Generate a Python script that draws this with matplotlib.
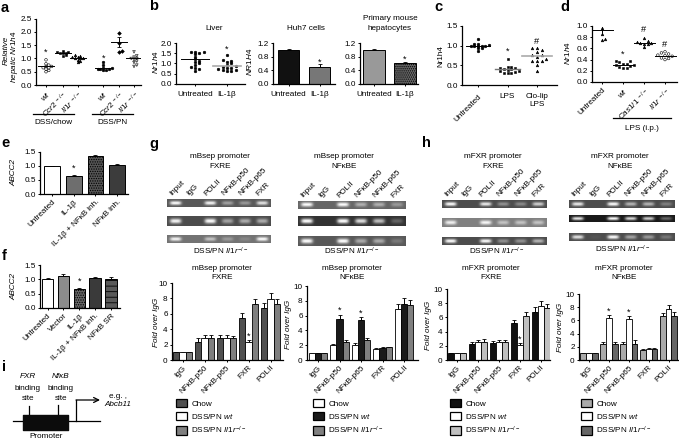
import numpy as np
import matplotlib
matplotlib.use("Agg")
import matplotlib.pyplot as plt
from matplotlib.patches import Patch

plt.rcParams['font.family'] = ['Liberation Sans', 'DejaVu Sans']
plt.rcParams['mathtext.fontset'] = 'custom'
plt.rcParams['mathtext.rm'] = 'Liberation Sans'
plt.rcParams['mathtext.it'] = 'Liberation Sans:italic'
plt.rcParams['mathtext.bf'] = 'Liberation Sans:bold'
plt.rcParams['hatch.linewidth'] = 0.6

W, H = 679, 440
FS = 5.9
IL1R = r'$\it{Il1r}^{-/-}$'
KO_CAPTION = 'DSS/PN ' + IL1R

# panel a
a_labels = [r'$\it{wt}$', r'$\it{Ccr2}^{\ -/-}$', r'$\it{Il1r}^{\ -/-}$'] * 2
a_wt_chow = [0.5, 0.55, 0.6, 0.65, 0.65, 0.7, 0.7, 0.75, 0.8, 0.95]
a_ccr2_chow = [1.1, 1.13, 1.2, 1.2, 1.22, 1.25, 1.25, 1.3]
a_il1r_chow = [0.85, 0.9, 0.95, 1.0, 1.0, 1.0, 1.05, 1.05, 1.1, 1.12]
a_wt_pn = [0.55, 0.58, 0.6, 0.6, 0.62, 0.65, 0.65, 0.75, 0.85]
a_ccr2_pn = [1.25, 1.3, 1.6, 1.95]
a_il1r_pn = [0.7, 0.75, 0.85, 0.9, 0.95, 1.0, 1.0, 1.05, 1.1, 1.25]
a_means = [0.7, 1.2, 1.0, 0.63, 1.62, 1.0]

# panel b
liver_untreated = [0.65, 0.75, 0.8, 0.85, 0.95, 1.0, 1.05, 1.1, 1.2, 1.3, 1.45, 1.5, 1.55, 1.55, 1.55]
liver_il1b = [0.65, 0.65, 0.7, 0.7, 0.75, 0.8, 0.8, 0.85, 0.9, 0.95, 1.0, 1.05, 1.1, 1.15, 1.4]
liver_means = [1.2, 0.9]
b_labels = ['Untreated', 'IL-1β']
huh7_vals = [1.0, 0.5]
huh7_err = [0.03, 0.08]
primary_vals = [1.0, 0.62]
primary_err = [0.015, 0.02]

# panel c
c_labels = ['Untreated', 'LPS', 'Clo-lip\nLPS']
c_untreated = [0.87, 0.93, 0.95, 0.98, 1.0, 1.0, 1.0, 1.0, 1.02, 1.03, 1.05, 1.17]
c_lps = [0.3, 0.3, 0.31, 0.32, 0.35, 0.35, 0.38, 0.4, 0.4, 0.42, 0.42, 0.45, 0.47, 0.65]
c_clolip = [0.35, 0.5, 0.6, 0.6, 0.6, 0.65, 0.7, 0.75, 0.75, 0.85, 0.9, 0.95, 0.95]
c_means = [1.0, 0.41, 0.73]

# panel d
d_labels = ['Untreated', r'$\it{wt}$', r'$\it{Cas1/1}^{\ -/-}$', r'$\it{Il1r}^{\ -/-}$']
d_untreated = [0.75, 0.76, 0.85, 0.97]
d_wt = [0.25, 0.25, 0.27, 0.28, 0.3, 0.3, 0.32, 0.33, 0.35, 0.37, 0.38]
d_casp = [0.63, 0.67, 0.68, 0.7, 0.7, 0.72, 0.73, 0.78]
d_il1r = [0.4, 0.42, 0.43, 0.46, 0.47, 0.48, 0.5, 0.52, 0.54]
d_means = [0.93, 0.31, 0.7, 0.47]

# panels e, f
e_labels = ['Untreated', 'IL-1β', 'IL-1β + NFκB inh.', 'NFκB inh.']
e_vals = [1.0, 0.66, 1.35, 1.05]
e_err = [0.0, 0.02, 0.03, 0.03]
f_labels = ['Untreated', 'Vector', 'IL-1β', 'IL-1β + NFκB inh.', 'NFκB SR']
f_vals = [1.0, 1.13, 0.67, 1.03, 1.0]
f_err = [0.05, 0.07, 0.03, 0.04, 0.09]

# panels g, h
chip_labels = ['IgG', 'NFκB-p50', 'NFκB-p65', 'FXR', 'POLII']
lane_labels = ['Input', 'IgG', 'POLII', 'NFκB-p50', 'NFκB-p65', 'FXR']
legend_labels = ['Chow', 'DSS/PN $\\it{wt}$', KO_CAPTION]

g1_chow = [1, 2.4, 2.85, 5.5, 6.7]
g1_chow_err = [0, 0.4, 0.35, 0.6, 0.7]
g1_wt = [1, 2.9, 2.85, 2.3, 7.9]
g1_wt_err = [0, 0.4, 0.35, 0.3, 0.8]
g1_ko = [1, 2.85, 2.85, 7.3, 7.3]
g1_ko_err = [0, 0.35, 0.3, 0.6, 0.6]

g2_chow = [1, 2, 2, 1.5, 6.9]
g2_chow_err = [0, 0.2, 0.3, 0.1, 0.7]
g2_wt = [1, 5.5, 5.4, 1.65, 7.6]
g2_wt_err = [0, 0.6, 0.35, 0.15, 0.8]
g2_ko = [1, 2.4, 2.65, 1.7, 7.4]
g2_ko_err = [0, 0.35, 0.3, 0.1, 0.7]

h1_chow = [1, 2.2, 2.4, 5.2, 6.8]
h1_chow_err = [0, 0.3, 0.25, 0.4, 0.7]
h1_wt = [1, 2.5, 2.5, 2.1, 7.6]
h1_wt_err = [0, 0.3, 0.25, 0.3, 0.7]
h1_ko = [1, 2.6, 2.6, 6.2, 7.3]
h1_ko_err = [0, 0.3, 0.2, 0.6, 0.6]

h2_chow = [1, 2.5, 2.4, 1.5, 6.6]
h2_chow_err = [0, 0.3, 0.4, 0.1, 0.5]
h2_wt = [1, 6.3, 6.2, 1.65, 7.7]
h2_wt_err = [0, 0.5, 0.5, 0.1, 0.7]
h2_ko = [1, 2.4, 2.5, 1.7, 6.6]
h2_ko_err = [0, 0.4, 0.5, 0.1, 0.6]

# gel band strength per lane, background grey per strip
g1_bands = [[1, 0, 0.95, 0.45, 0.4, 0.85], [0.95, 0, 1, 0.5, 0.55, 0.55], [0.95, 0, 0.6, 0.3, 0.15, 1]]
g1_bg = [0.35, 0.3, 0.45]
g2_bands = [[1, 0, 1, 0.5, 0.5, 0.35], [1, 0, 1, 0.85, 0.7, 0.25], [1, 0, 1, 0.5, 0.5, 0.2]]
g2_bg = [0.4, 0.2, 0.35]
h1_bands = [[1, 0, 0.9, 0.4, 0.35, 0.75], [0.9, 0, 0.95, 0.55, 0.55, 0.55], [1, 0, 1, 0.4, 0.4, 0.6]]
h1_bg = [0.3, 0.5, 0.3]
h2_bands = [[0.9, 0, 1, 0.6, 0.6, 0.3], [0.9, 0, 1, 0.85, 0.8, 0.35], [0.85, 0.05, 1, 0.5, 0.45, 0.25]]
h2_bg = [0.3, 0.1, 0.3]

fig = plt.figure(figsize=(W / 100, H / 100), dpi=100)


def px_axes(x0, x1, ytop, ybot, ymax, first, step, yticks, ticklabels=None):
    # axes placed in image pixels, categories sit on 0, 1, 2 ...
    ax = fig.add_axes([x0 / W, 1 - ybot / H, (x1 - x0) / W, (ybot - ytop) / H])
    ax.set_xlim((x0 - first) / step, (x1 - first) / step)
    ax.set_ylim(0, ymax)
    ax.patch.set_alpha(0)
    for s in ['top', 'right']:
        ax.spines[s].set_visible(False)
    for s in ['left', 'bottom']:
        ax.spines[s].set_linewidth(0.9)
    ax.set_yticks(yticks)
    if ticklabels:
        ax.set_yticklabels(ticklabels)
    ax.tick_params(axis='both', labelsize=FS, length=1.6, width=0.7, pad=1.5)
    return ax


def rot_labels(ax, labels, pad=1.5):
    ax.set_xticks(range(len(labels)))
    ax.set_xticklabels(labels, rotation=45, ha='right', rotation_mode='anchor', fontsize=FS)
    ax.tick_params(axis='x', pad=pad)


def swarm(vals, gap, dx):
    # simple dodge so that close values sit side by side
    placed = []
    for v in sorted(vals):
        k = 0
        while True:
            off = ((k + 1) // 2) * dx * (1 if k % 2 else -1)
            if all(abs(v - pv) > gap or abs(off - po) > dx * 0.9 for pv, po in placed):
                break
            k += 1
        placed.append((v, off))
    return np.array([p[1] for p in placed]), np.array([p[0] for p in placed])


def dots(ax, i, vals, marker='o', fc='k', gap=0.05, dx=0.12, s=3.6):
    off, v = swarm(vals, gap, dx)
    ax.scatter(i + off, v, marker=marker, s=s, facecolors=fc, edgecolors='k', linewidths=0.4, zorder=3, clip_on=False)


def mean_line(ax, i, m, hw=0.4, color='k', lw=0.7):
    ax.plot([i - hw, i + hw], [m, m], color=color, lw=lw, zorder=4)


def note(ax, x, y, s='*'):
    ax.text(x, y, s, ha='center', va='center', fontsize=FS + 0.8)


def bars(ax, vals, err, colors, hatches=None, width=0.72):
    hatches = hatches or [None] * len(vals)
    for i, v in enumerate(vals):
        ax.bar(i, v, width=width, facecolor=colors[i], edgecolor='k', linewidth=0.7, hatch=hatches[i])
        ax.errorbar(i, v, yerr=[[0], [err[i]]], color='k', lw=0.7, capsize=1.3, capthick=0.6, zorder=2)


def grouped(ax, series, errs, colors, width=0.29):
    for j, (vals, err) in enumerate(zip(series, errs)):
        x = np.arange(len(vals)) + (j - 1) * width
        ax.bar(x, vals, width=width, facecolor=colors[j], edgecolor='k', linewidth=0.6, zorder=2)
        ax.errorbar(x, vals, yerr=[np.zeros(len(err)), err], fmt='none', ecolor='k', elinewidth=0.7,
                    capsize=1.1, capthick=0.6, zorder=1)


def gel(x0, x1, ytop, ybot, bands, bg):
    ax = fig.add_axes([x0 / W, 1 - ybot / H, (x1 - x0) / W, (ybot - ytop) / H])
    nx, ny = int((x1 - x0) * 4), int((ybot - ytop) * 4)
    xx = (np.arange(nx) + 0.5) / nx * len(bands)
    yy = (np.arange(ny) + 0.5) / ny
    img = np.full((ny, nx), float(bg))
    for i, b in enumerate(bands):
        prof_x = np.exp(-((xx - i - 0.5) / 0.33) ** 4)
        prof_y = np.exp(-((yy - 0.5) / 0.24) ** 2)
        img += (1 - bg) * b * np.outer(prof_y, prof_x)
    ax.imshow(np.clip(img, 0, 1), cmap='gray', vmin=0, vmax=1, aspect='auto', interpolation='bilinear')
    ax.axis('off')


def gel_set(x0, x1, rows, bands, bgs, caption_x, caption_y):
    for (yt, yb), b, bg in zip(rows, bands, bgs):
        gel(x0, x1, yt, yb, b, bg)
    step = (x1 - x0) / 6
    for i, name in enumerate(lane_labels):
        t(x0 + step * (i + 0.35), rows[0][0] - 2, name, rotation=45, ha='left', va='bottom', rotation_mode='anchor')
    t(caption_x, caption_y, KO_CAPTION)


def chip_legend(ax, colors, x, y):
    handles = [Patch(facecolor=c, edgecolor='k', linewidth=0.9) for c in colors]
    ax.legend(handles, legend_labels, loc='upper left', bbox_to_anchor=(x / W, 1 - y / H),
              bbox_transform=fig.transFigure, frameon=False, fontsize=FS, handlelength=1.35, handleheight=1.25,
              labelspacing=0.48, handletextpad=0.5, borderpad=0, borderaxespad=0)


top = fig.add_axes([0, 0, 1, 1], zorder=10)
top.set_xlim(0, W)
top.set_ylim(H, 0)
top.axis('off')


def t(x, y, s, **kw):
    kw.setdefault('fontsize', FS)
    kw.setdefault('ha', 'center')
    kw.setdefault('va', 'center')
    top.text(x, y, s, **kw)


for letter, x, y in [('a', 5, 8), ('b', 154, 6), ('c', 438, 7), ('d', 565, 7), ('e', 5, 143),
                     ('f', 4, 256), ('g', 154, 144), ('h', 426, 143), ('i', 4, 367)]:
    t(x, y, letter, fontsize=10.5, fontweight='bold')

# a
ax = px_axes(36, 141, 18.7, 85, 2.5, 46, 17.6, [0, 0.5, 1, 1.5, 2, 2.5], ['0.0', '0.5', '1.0', '1.5', '2.0', '2.5'])
a_pos = [0, 0.95, 1.8, 3.25, 4.15, 5.0]
ax.set_xticks(a_pos)
ax.set_xticklabels(a_labels, rotation=45, ha='right', rotation_mode='anchor', fontsize=FS)
a_groups = [a_wt_chow, a_ccr2_chow, a_il1r_chow, a_wt_pn, a_ccr2_pn, a_il1r_pn]
a_marks = [('o', 'none'), ('s', 'k'), ('^', 'k'), ('o', 'k'), ('D', 'k'), ('v', 'none')]
for p, vals, (m, fc), mn in zip(a_pos, a_groups, a_marks, a_means):
    dots(ax, p, vals, marker=m, fc=fc, gap=0.08, dx=0.16)
    mean_line(ax, p, mn, hw=0.45)
ax.errorbar(a_pos[4], a_means[4], yerr=0.2, color='k', lw=0.7, capsize=1.5, capthick=0.6)
note(ax, a_pos[0], 1.22)
note(ax, a_pos[3], 1.0)
t(6, 50, 'Relative', rotation=90, style='italic')
t(15, 57, 'hepatic $\\it{Nr1h4}$', rotation=90, style='italic')
top.plot([33, 74], [114, 114], color='k', lw=0.9)
top.plot([92, 133], [114, 114], color='k', lw=0.9)
t(53, 123, 'DSS/chow')
t(112, 123, 'DSS/PN')

# b
t(214, 28, 'Liver')
t(306, 28, 'Huh7 cells')
t(390, 19, 'Primary mouse')
t(390, 29, 'hepatocytes')
ax = px_axes(176, 245, 43, 84, 2.0, 195, 32, [0, 0.5, 1, 1.5, 2], ['0.0', '0.5', '1.0', '1.5', '2.0'])
ax.set_xticks([0, 1])
ax.set_xticklabels(b_labels, fontsize=FS)
ax.tick_params(axis='x', pad=3.5)
dots(ax, 0, liver_untreated, gap=0.1, dx=0.14)
dots(ax, 1, liver_il1b, gap=0.1, dx=0.14)
mean_line(ax, 0, liver_means[0], hw=0.45)
mean_line(ax, 1, liver_means[1], hw=0.45, color='#aaaaaa', lw=1.2)
note(ax, 1, 1.72)
t(155, 62, '$\\it{Nr1h4}$', rotation=90)

ax = px_axes(273, 335, 43, 84, 1.2, 288.5, 31, [0, 0.4, 0.8, 1.2], ['0.0', '0.4', '0.8', '1.2'])
bars(ax, huh7_vals, huh7_err, ['#111111', '#777777'], width=0.68)
ax.set_xticks([0, 1])
ax.set_xticklabels(b_labels, fontsize=FS)
ax.tick_params(axis='x', pad=3.5)
note(ax, 1, 0.63)
t(249, 62, '$\\it{NR1H4}$', rotation=90)

ax = px_axes(360, 418, 43, 84, 1.2, 374, 31, [0, 0.4, 0.8, 1.2], ['0.0', '0.4', '0.8', '1.2'])
bars(ax, primary_vals, primary_err, ['#999999', '#666666'], hatches=[None, '........'], width=0.7)
ax.set_xticks([0, 1])
ax.set_xticklabels(b_labels, fontsize=FS)
ax.tick_params(axis='x', pad=3.5)
note(ax, 1, 0.72)

# c
ax = px_axes(462, 557, 26, 85, 1.5, 478, 29.5, [0, 0.5, 1, 1.5], ['0.0', '0.5', '1.0', '1.5'])
ax.set_xticks([0, 1, 2])
ax.set_xticklabels(c_labels, fontsize=FS)
ax.tick_params(axis='x', pad=4.5)
ax.get_xticklabels()[0].set(rotation=45, ha='right', rotation_mode='anchor')
dots(ax, 0, c_untreated, fc='k', gap=0.05, dx=0.12)
dots(ax, 1, c_lps, marker='s', gap=0.05, dx=0.13)
dots(ax, 2, c_clolip, marker='^', gap=0.07, dx=0.16)
mean_line(ax, 0, c_means[0], hw=0.42)
mean_line(ax, 1, c_means[1], hw=0.42, color='#777777', lw=1.0)
mean_line(ax, 2, c_means[2], hw=0.5, color='#aaaaaa', lw=1.2)
note(ax, 1, 0.87)
note(ax, 2, 1.1, '#')
t(441, 56, 'Nr1h4', rotation=90)

# d
ax = px_axes(592, 677, 26, 82, 1.0, 602, 21, [0, 0.2, 0.4, 0.6, 0.8, 1.0], ['0.0', '0.2', '0.4', '0.6', '0.8', '1.0'])
rot_labels(ax, d_labels)
dots(ax, 0, d_untreated, marker='^', gap=0.04, dx=0.15)
dots(ax, 1, d_wt, marker='s', gap=0.06, dx=0.17)
dots(ax, 2, d_casp, marker='^', gap=0.05, dx=0.17)
dots(ax, 3, d_il1r, marker='o', fc='none', gap=0.06, dx=0.17)
for i, m in enumerate(d_means):
    mean_line(ax, i, m, hw=0.5)
ax.errorbar(0, d_means[0], yerr=0.06, color='k', lw=0.7)
note(ax, 1, 0.5)
note(ax, 2, 0.93, '#')
note(ax, 3, 0.67, '#')
t(567, 53, '$\\it{Nr1h4}$', rotation=90)
top.plot([613, 671], [118, 118], color='k', lw=0.9)
t(642, 128, 'LPS (i.p.)')

# e
ax = px_axes(40, 128, 152, 194, 1.5, 52, 21.7, [0, 0.5, 1, 1.5], ['0.0', '0.5', '1.0', '1.5'])
bars(ax, e_vals, e_err, ['white', '#6e6e6e', '#555555', '#3c3c3c'], hatches=[None, None, '.......', None], width=0.72)
rot_labels(ax, e_labels)
note(ax, 1, 0.92)
t(14, 173, 'ABCC2', rotation=90, style='italic')

# f
ax = px_axes(40, 120, 265, 308, 1.5, 47.5, 15.9, [0, 0.5, 1, 1.5], ['0.0', '0.5', '1.0', '1.5'])
bars(ax, f_vals, f_err, ['white', '#8c8c8c', '#666666', '#3a3a3a', '#5a5a5a'],
     hatches=[None, None, '.......', None, '---'], width=0.72)
rot_labels(ax, f_labels)
note(ax, 2, 0.92)
t(14, 287, 'ABCC2', rotation=90, style='italic')

# gels
gel_set(167, 271, [(199, 207), (216, 226), (235, 243)], g1_bands, g1_bg, 221, 251)
gel_set(298, 406, [(201, 209), (216, 226), (236, 246)], g2_bands, g2_bg, 352, 251)
gel_set(442, 547, [(200, 208), (218, 227), (237, 245)], h1_bands, h1_bg, 497, 251)
gel_set(569, 675, [(200, 208), (215, 222), (233, 241)], h2_bands, h2_bg, 623, 249)
for x, line2 in [(220, 'FXRE'), (344, 'NFκBE')]:
    t(x, 156, 'mBsep promoter')
    t(x, 166, line2)
for x, line2 in [(493, 'FXRE'), (620, 'NFκBE')]:
    t(x, 156, 'mFXR promoter')
    t(x, 166, line2)
for x, s1, line2 in [(222, 'mBsep promoter', 'FXRE'), (352, 'mBsep promoter', 'NFκBE'),
                     (491, 'mFXR promoter', 'FXRE'), (624, 'mFXR promoter', 'NFκBE')]:
    t(x, 268, s1)
    t(x, 277.5, line2)

# g, h bar charts
fold_ticks = [0, 2, 4, 6, 8, 10]

c_g1 = ['#505050', 'white', '#7f7f7f']
ax = px_axes(172, 283, 283, 360, 10, 182.5, 22, fold_ticks)
grouped(ax, [g1_chow, g1_wt, g1_ko], [g1_chow_err, g1_wt_err, g1_ko_err], c_g1)
rot_labels(ax, chip_labels)
note(ax, 3, 3.1)
chip_legend(ax, c_g1, 176, 398.5)
t(157, 322, 'Fold over IgG', rotation=90, style='italic')

c_g2 = ['white', '#1a1a1a', '#808080']
ax = px_axes(307, 418, 286, 360, 10, 318, 21.5, fold_ticks)
grouped(ax, [g2_chow, g2_wt, g2_ko], [g2_chow_err, g2_wt_err, g2_ko_err], c_g2)
rot_labels(ax, chip_labels)
note(ax, 1, 6.7)
note(ax, 2, 6.3)
chip_legend(ax, c_g2, 313, 398.5)
t(288, 324, 'Fold over IgG', rotation=90, style='italic')

c_h1 = ['#111111', 'white', '#c0c0c0']
ax = px_axes(447, 550, 289, 360, 10, 457, 20.9, fold_ticks)
grouped(ax, [h1_chow, h1_wt, h1_ko], [h1_chow_err, h1_wt_err, h1_ko_err], c_h1)
rot_labels(ax, chip_labels)
note(ax, 3, 2.95)
chip_legend(ax, c_h1, 450, 398.5)
t(428, 325, 'Fold over IgG', rotation=90, style='italic')

c_h2 = ['#aaaaaa', 'white', '#666666']
ax = px_axes(579, 678, 294, 360, 10, 589, 19.9, fold_ticks)
grouped(ax, [h2_chow, h2_wt, h2_ko], [h2_chow_err, h2_wt_err, h2_ko_err], c_h2)
rot_labels(ax, chip_labels)
note(ax, 1, 7.4)
note(ax, 2, 7.3)
chip_legend(ax, c_h2, 581, 398.5)
t(560, 327, 'Fold over IgG', rotation=90, style='italic')

# i, promoter sketch
top.plot([13, 100], [421.5, 421.5], color='k', lw=0.9)
top.fill_between([23, 68], [415, 415], [430, 430], color='#0c0c0c', zorder=3)
top.plot([29, 29], [406, 415], color='k', lw=0.9)
top.plot([58, 58], [405, 415], color='k', lw=0.9)
top.annotate('', xy=(100, 400), xytext=(76, 400),
             arrowprops=dict(arrowstyle='->', lw=0.9, color='k', shrinkA=0, shrinkB=0, mutation_scale=9))
top.plot([76, 76], [421.5, 400], color='k', lw=0.9)
t(28, 377, 'FXR', style='italic')
t(28, 388, 'binding')
t(28, 398, 'site')
t(61, 377, 'NfκB', style='italic')
t(61, 388, 'binding')
t(61, 398, 'site')
t(46, 437, 'Promoter')
t(118, 396, 'e.g. ,')
t(118, 405, 'Abcb11', style='italic')

fig.savefig('out.png', dpi=100)
